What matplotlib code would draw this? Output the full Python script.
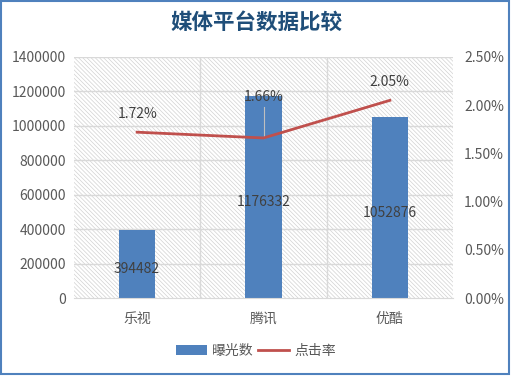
import matplotlib
matplotlib.use("Agg")
import matplotlib.pyplot as plt
from matplotlib.patches import Rectangle
from matplotlib.lines import Line2D
from matplotlib.patches import Patch

plt.rcParams['font.family'] = ['Noto Sans CJK SC', 'DejaVu Sans']
plt.rcParams['hatch.color'] = '#d2d2d2'
plt.rcParams['hatch.linewidth'] = 0.5

categories = ['乐视', '腾讯', '优酷']
exposure = [394482, 1176332, 1052876]
ctr = [0.0172, 0.0166, 0.0205]
left_ticks = [0, 200000, 400000, 600000, 800000, 1000000, 1200000, 1400000]
right_ticks = [0, 0.005, 0.01, 0.015, 0.02, 0.025]

bar_color = '#4F81BD'
line_color = '#C0504D'
text_color = '#595959'

fig = plt.figure(figsize=(5.12, 3.76), dpi=100)
ax = fig.add_axes([74/512, 1-298/376, (453-74)/512, (298-57)/376])
x = list(range(len(categories)))

ax.set_xlim(-0.5, 2.5)
ax.set_ylim(0, 1400000)
# hatched background
ax.add_patch(Rectangle((0, 0), 1, 1, transform=ax.transAxes, facecolor='white',
                       hatch='\\' * 8, edgecolor='#d2d2d2', linewidth=0, zorder=0))
for t in left_ticks[1:]:
    ax.axhline(t, color='#d9d9d9', lw=1, zorder=1)
for v in [0.5, 1.5]:
    ax.axvline(v, color='#d9d9d9', lw=1, zorder=1)

bars = ax.bar(x, exposure, width=0.29, color=bar_color, zorder=2)
for xi, v in zip(x, exposure):
    ax.text(xi, v / 2 - 30000, str(v), ha='center', va='center', fontsize=10, color='#404040', zorder=5)

ax.set_yticks(left_ticks)
ax.set_yticklabels([str(t) for t in left_ticks])
ax.set_xticks(x)
ax.set_xticklabels(categories)
ax.tick_params(axis='x', length=0, labelsize=10, colors=text_color, pad=10)
ax.tick_params(axis='y', length=0, labelsize=10, colors=text_color, pad=6)
for s in ['top', 'right', 'left']:
    ax.spines[s].set_visible(False)
ax.spines['bottom'].set_color('#d9d9d9')

ax2 = ax.twinx()
ax2.set_ylim(0, 0.025)
ax2.plot(x, ctr, color=line_color, lw=2, zorder=4)
ax2.set_yticks(right_ticks)
ax2.set_yticklabels([f'{t*100:.2f}%' for t in right_ticks])
ax2.tick_params(axis='y', length=0, labelsize=10, colors=text_color, pad=8)
for s in ax2.spines.values():
    s.set_visible(False)

offsets = [0.0019, 0.0042, 0.0019]
for xi, v, off in zip(x, ctr, offsets):
    ax2.text(xi, v + off, f'{v*100:.2f}%', ha='center', va='center', fontsize=10, color='#404040', zorder=5)
# leader line for middle label
ax2.plot([x[1], x[1]], [ctr[1] + 0.0032, ctr[1]], color='#bfbfbf', lw=0.8, zorder=3)

fig.text(0.5, 1-22/376, '媒体平台数据比较', ha='center', va='center', fontsize=15.5,
         fontweight='bold', color='#1F4E79')

handles = [Patch(facecolor=bar_color, edgecolor='none'),
           Line2D([0], [0], color=line_color, lw=2)]
fig.legend(handles, ['曝光数', '点击率'], loc='center', bbox_to_anchor=(0.5, 1-351/376),
           ncol=2, frameon=False, fontsize=10, handlelength=2.2, handleheight=0.7,
           columnspacing=0.3, handletextpad=0.4, labelcolor=text_color)

fig.add_artist(Rectangle((0.002, 0.004), 0.993, 0.993, transform=fig.transFigure,
                         fill=False, edgecolor='#4F81BD', lw=1.5))

fig.savefig('out.png', dpi=100)
